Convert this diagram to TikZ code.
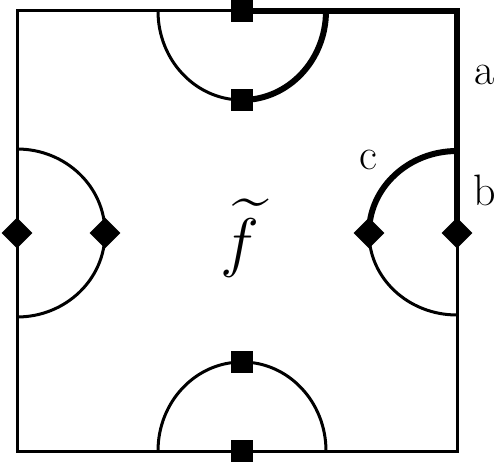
\documentclass[tikz,border=0pt]{standalone}
\usepackage{amsmath}
\usetikzlibrary{shapes.geometric}
\begin{document}
\begin{tikzpicture}[x=1pt,y=1pt,
  edge/.style={line width=3pt},
  hot/.style={line width=6pt},
  sq/.style={fill=black,minimum size=22pt,inner sep=0pt},
  dm/.style={diamond,fill=black,minimum size=31pt,inner sep=0pt},
  lbl/.style={font=\fontsize{44}{44}\selectfont,inner sep=0pt}]
\useasboundingbox (0,0) rectangle (498,464);
% corners of the box
\coordinate (ul) at (17,453); \coordinate (ur) at (457,453);
\coordinate (ll) at (17,13); \coordinate (lr) at (457,13);
% markers
\node[sq] (t1) at (242,453) {};
\node[sq] (t2) at (242,364) {};
\node[sq] (b1) at (242,13) {};
\node[sq] (b2) at (242,102) {};
\node[dm] (l1) at (17,231) {};
\node[dm] (l2) at (105,231) {};
\node[dm] (r1) at (457,231) {};
\node[dm] (r2) at (369,231) {};
% box
\draw[edge] (t1.center) -- (ul) -- (ll) -- (lr) -- (r1.center);
\draw[hot] (t1.center) -- (ur) -- (r1.center);
% half circles
\draw[edge] (t2.center) arc[start angle=270,end angle=180,x radius=84,y radius=89];
\draw[hot] (t2.center) arc[start angle=270,end angle=360,x radius=84,y radius=89];
\draw[edge] (b2.center) arc[start angle=90,end angle=0,x radius=84,y radius=89]
  (b2.center) arc[start angle=90,end angle=180,x radius=84,y radius=89];
\draw[edge] (l2.center) arc[start angle=0,end angle=90,x radius=88,y radius=84]
  (l2.center) arc[start angle=0,end angle=-90,x radius=88,y radius=84];
\draw[hot] (r2.center) arc[start angle=180,end angle=90,x radius=88,y radius=82];
\draw[edge] (r2.center) arc[start angle=180,end angle=270,x radius=88,y radius=82];
% labels
\node[lbl] (a) at (485,389) {a};
\node[lbl] (b) at (485,274) {b};
\node[lbl] (c) at (368,304) {c};
\node[scale=2.65] (f) at (240,226) {\Huge$\widetilde{f}$};
\end{tikzpicture}
\end{document}
